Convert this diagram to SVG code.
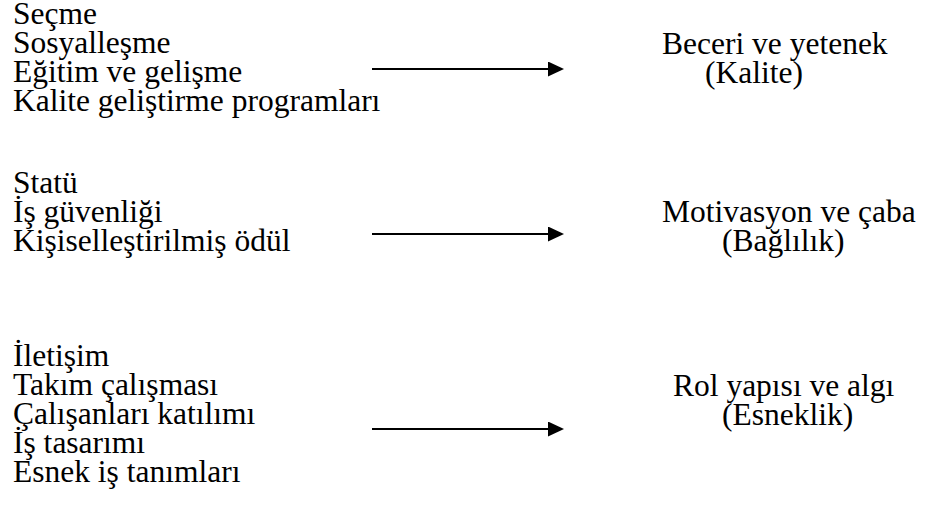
<svg xmlns="http://www.w3.org/2000/svg" width="926" height="520" viewBox="0 0 926 520">
  <style>
    text { font-family: 'Liberation Serif', 'Times New Roman', serif; font-size: 31.5px; fill: #000; }
    .link { stroke: #000; stroke-width: 2; fill: none; marker-end: url(#head); }
  </style>
  <defs>
    <marker id="head" viewBox="0 0 16 15" refX="0" refY="7.5" markerWidth="16" markerHeight="15" markerUnits="userSpaceOnUse" orient="auto">
      <path d="M0,0 L16,7.5 L0,15 Z" fill="#000"/>
    </marker>
  </defs>
  <rect width="926" height="520" fill="#fff"/>

  <!-- practices: selection and development -->
  <g id="practices-quality">
    <text x="13" y="24">Seçme</text>
    <text x="13" y="53">Sosyalleşme</text>
    <text x="13" y="82">Eğitim ve gelişme</text>
    <text x="13" y="111">Kalite geliştirme programları</text>
  </g>
  <g id="outcome-quality">
    <text x="662" y="54">Beceri ve yetenek</text>
    <text x="705" y="83">(Kalite)</text>
  </g>

  <!-- practices: status and reward -->
  <g id="practices-commitment">
    <text x="13" y="193">Statü</text>
    <text x="13" y="222">İş güvenliği</text>
    <text x="13" y="251">Kişiselleştirilmiş ödül</text>
  </g>
  <g id="outcome-commitment">
    <text x="662" y="222">Motivasyon ve çaba</text>
    <text x="722" y="251">(Bağlılık)</text>
  </g>

  <!-- practices: communication and work design -->
  <g id="practices-flexibility">
    <text x="13" y="366">İletişim</text>
    <text x="13" y="395">Takım çalışması</text>
    <text x="13" y="424">Çalışanları katılımı</text>
    <text x="13" y="453">İş tasarımı</text>
    <text x="13" y="482">Esnek iş tanımları</text>
  </g>
  <g id="outcome-flexibility">
    <text x="673" y="396">Rol yapısı ve algı</text>
    <text x="722" y="425">(Esneklik)</text>
  </g>

  <g id="connectors">
    <line class="link" x1="372" y1="69" x2="548" y2="69"/>
    <line class="link" x1="372" y1="234" x2="548" y2="234"/>
    <line class="link" x1="372" y1="429" x2="548" y2="429"/>
  </g>
</svg>
